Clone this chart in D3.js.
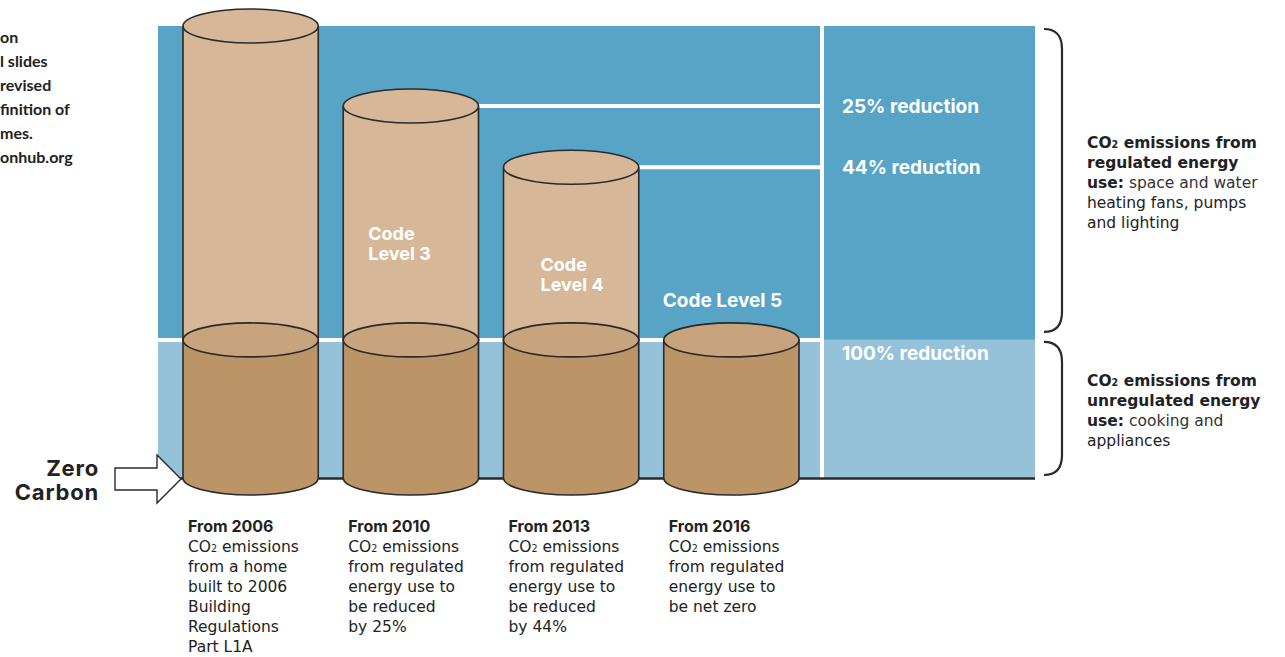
<!DOCTYPE html>
<html><head><meta charset="utf-8">
<script src="https://cdn.jsdelivr.net/npm/d3@7"></script>
<style>
html,body{margin:0;padding:0;background:#fff;}
svg{display:block;}
</style>
</head><body>
<div id="chart"></div>
<script>
// ---- data ----
const years = ["2006", "2010", "2013", "2016"];
const regulated = [100, 74.5, 55, 0];      // regulated-energy CO2 (2006 = 100)
const unregulated = [44, 44, 44, 44];      // unregulated-energy CO2, same scale
const codeLevels = ["", "Code|Level 3", "Code|Level 4", "Code Level 5"];
const reductionLabels = ["25% reduction", "44% reduction", "100% reduction"];
const yearTitles = ["From 2006", "From 2010", "From 2013", "From 2016"];
const yearDescriptions = [
  ["CO₂ emissions", "from a home", "built to 2006", "Building", "Regulations", "Part L1A"],
  ["CO₂ emissions", "from regulated", "energy use to", "be reduced", "by 25%"],
  ["CO₂ emissions", "from regulated", "energy use to", "be reduced", "by 44%"],
  ["CO₂ emissions", "from regulated", "energy use to", "be net zero"]
];
const noteLines = ["on", "l slides", "revised", "finition of", "mes.", "onhub.org"];
const legendRegulated = [["CO₂ emissions from", true], ["regulated energy", true], ["use:| space and water", "mix"], ["heating fans, pumps", false], ["and lighting", false]];
const legendUnregulated = [["CO₂ emissions from", true], ["unregulated energy", true], ["use:| cooking and", "mix"], ["appliances", false]];

// ---- setup ----
const W = 1285, H = 657;
const svg = d3.select("#chart").append("svg").attr("width", W).attr("height", H);
const FONT = "Inter, 'DejaVu Sans', sans-serif";
const WIDE = "'DejaVu Sans', Inter, sans-serif";

const panelLeft = 158, panelRight = 1035, dividerX = 822;
const x = d3.scaleBand().domain(years).range([183, 799]).paddingInner(0.156).paddingOuter(0);
const y = d3.scaleLinear().domain([0, 144]).range([478, 26]);
const ry = 17;
const labelDx = [0, 25, 37, 0];

const darkBlue = "#58a4c6", lightBlue = "#96c2d9";
const tanLight = "#d6b898", tanDark = "#bb9468", tanLid = "#c8a47e", ink = "#2a2a2a";

// text with CO2 subscript helper
function addRich(sel, str, weight) {
  const parts = str.split("₂");
  parts.forEach((p, i) => {
    if (p) sel.append("tspan").attr("font-weight", weight).text(p);
    if (i < parts.length - 1) sel.append("tspan").attr("font-weight", weight).attr("font-size", "0.62em").text("2");
  });
}

// ---- background panels ----
const unregTop = y(unregulated[0]);
svg.append("rect").attr("x", panelLeft).attr("y", y(144)).attr("width", panelRight - panelLeft)
  .attr("height", unregTop - y(144)).attr("fill", darkBlue);
svg.append("rect").attr("x", panelLeft).attr("y", unregTop).attr("width", panelRight - panelLeft)
  .attr("height", y(0) - unregTop).attr("fill", lightBlue);

// white dividers
svg.append("line").attr("x1", panelLeft).attr("x2", dividerX).attr("y1", unregTop).attr("y2", unregTop)
  .attr("stroke", "#fff").attr("stroke-width", 4);
svg.append("line").attr("x1", dividerX).attr("x2", dividerX).attr("y1", y(144)).attr("y2", y(0))
  .attr("stroke", "#fff").attr("stroke-width", 4);
years.forEach((yr, i) => {
  if (i === 0 || regulated[i] === 0) return;
  const yy = y(unregulated[i] + regulated[i]);
  svg.append("line").attr("x1", x(yr) + x.bandwidth()).attr("x2", dividerX).attr("y1", yy).attr("y2", yy)
    .attr("stroke", "#fff").attr("stroke-width", 4);
});

// baseline
svg.append("line").attr("x1", 180).attr("x2", panelRight).attr("y1", y(0) + 0.5).attr("y2", y(0) + 0.5)
  .attr("stroke", ink).attr("stroke-width", 2.5);

// ---- cylinders ----
years.forEach((yr, i) => {
  const x0 = x(yr), w = x.bandwidth(), rx = w / 2, cx = x0 + rx;
  const yBase = y(0), yMid = y(unregulated[i]), yTop = y(unregulated[i] + regulated[i]);
  const g = svg.append("g");
  if (regulated[i] > 0) {
    g.append("path").attr("d", `M${x0},${yTop}L${x0},${yMid}L${x0 + w},${yMid}L${x0 + w},${yTop}`)
      .attr("fill", tanLight).attr("stroke", ink).attr("stroke-width", 1.6);
    g.append("ellipse").attr("cx", cx).attr("cy", yTop).attr("rx", rx).attr("ry", ry)
      .attr("fill", tanLight).attr("stroke", ink).attr("stroke-width", 1.6);
  }
  g.append("path").attr("d", `M${x0},${yMid}L${x0},${yBase}A${rx},${ry} 0 0 0 ${x0 + w},${yBase}L${x0 + w},${yMid}Z`)
    .attr("fill", tanDark).attr("stroke", ink).attr("stroke-width", 1.6);
  g.append("ellipse").attr("cx", cx).attr("cy", yMid).attr("rx", rx).attr("ry", ry)
    .attr("fill", tanLid).attr("stroke", ink).attr("stroke-width", 1.6);

  // code level labels
  const lab = codeLevels[i];
  if (lab) {
    const lines = lab.split("|");
    if (regulated[i] > 0) {
      const yc = (yTop + yMid) / 2 + 17;
      lines.forEach((l, k) => svg.append("text").attr("fill", "#fff").attr("font-family", FONT)
        .attr("font-weight", 700).attr("font-size", 18)
        .attr("x", x0 + labelDx[i]).attr("y", yc + k * 20).text(l));
    } else {
      svg.append("text").attr("fill", "#fff").attr("font-family", FONT).attr("font-weight", 700)
        .attr("font-size", 19).attr("x", x0 - 1).attr("y", yMid - 33).text(lines[0]);
    }
  }
});

// reduction labels
years.forEach((yr, i) => {
  if (i === 0) return;
  const yy = regulated[i] > 0 ? y(unregulated[i] + regulated[i]) + 7 : y(unregulated[i]) + 20;
  svg.append("text").attr("x", dividerX + 20).attr("y", yy).attr("fill", "#fff")
    .attr("font-family", FONT).attr("font-weight", 700).attr("font-size", 19)
    .text(reductionLabels[i - 1]);
});

// ---- bottom descriptions ----
years.forEach((yr, i) => {
  const tx = x(yr) + 5;
  const t = svg.append("text").attr("font-family", WIDE).attr("font-size", 15.5).attr("fill", "#222");
  t.append("tspan").attr("x", tx).attr("y", 532).attr("font-family", FONT).attr("font-weight", 700)
    .attr("font-size", 16).text(yearTitles[i]);
  yearDescriptions[i].forEach((l, k) => {
    const ts = t.append("tspan").attr("x", tx).attr("y", 552 + k * 20);
    addRich(ts, l, 400);
  });
});

// ---- zero carbon arrow ----
const yb = y(0) + 1;
const arrowPts = [[115, yb - 11], [157, yb - 11], [157, yb - 24], [181, yb], [157, yb + 24], [157, yb + 11], [115, yb + 11]];
svg.append("polygon").attr("points", arrowPts.map(p => p.join(",")).join(" "))
  .attr("fill", "#fff").attr("stroke", ink).attr("stroke-width", 1.4);
["Zero", "Carbon"].forEach((s, k) => svg.append("text").attr("font-family", FONT).attr("font-weight", 700)
  .attr("font-size", 22).attr("letter-spacing", 0.8).attr("fill", "#222").attr("text-anchor", "end")
  .attr("x", 99).attr("y", 476 + k * 24).text(s));

// ---- braces ----
function brace(y1, y2) {
  const xl = 1044, xr = 1062;
  return `M${xl},${y1} Q${xr},${y1} ${xr},${y1 + 20} L${xr},${y2 - 20} Q${xr},${y2} ${xl},${y2}`;
}
svg.append("path").attr("d", brace(y(144) + 3, unregTop - 8)).attr("fill", "none").attr("stroke", ink).attr("stroke-width", 2.2);
svg.append("path").attr("d", brace(unregTop + 2, y(0) - 3)).attr("fill", "none").attr("stroke", ink).attr("stroke-width", 2.2);

function legend(items, y0) {
  const t = svg.append("text").attr("font-family", WIDE).attr("font-size", 15.5).attr("fill", "#222");
  items.forEach(([str, bold], k) => {
    const ts = t.append("tspan").attr("x", 1087).attr("y", y0 + k * 20);
    if (bold === "mix") {
      const [a, b] = str.split("|");
      ts.append("tspan").attr("font-weight", 700).text(a);
      ts.append("tspan").attr("font-weight", 400).attr("fill", "#333").text(b);
    } else {
      addRich(ts, str, bold ? 700 : 400);
    }
  });
}
legend(legendRegulated, 148);
legend(legendUnregulated, 386);

// ---- clipped note at top-left ----
const nt = svg.append("text").attr("font-family", "Lato, sans-serif").attr("font-weight", 700)
  .attr("font-size", 16).attr("fill", "#222");
noteLines.forEach((l, k) => nt.append("tspan").attr("x", 0).attr("y", 43 + k * 24).text(l));
</script>
</body></html>
